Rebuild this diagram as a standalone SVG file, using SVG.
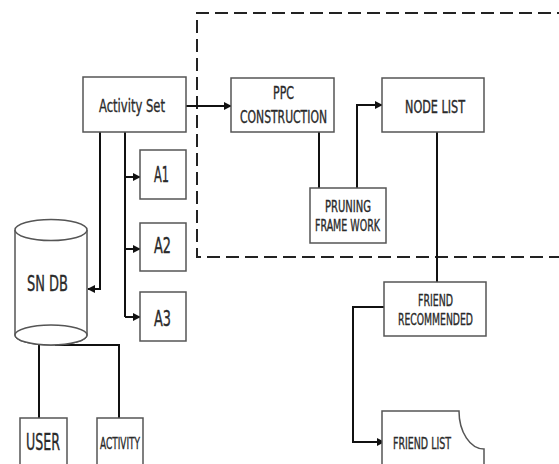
<svg xmlns="http://www.w3.org/2000/svg" width="559" height="464" viewBox="0 0 559 464">
<defs>
<marker id="ah" viewBox="0 0 10 10" refX="9" refY="5" markerWidth="4" markerHeight="4" orient="auto" markerUnits="strokeWidth"><path d="M0,0 L10,5 L0,10 z" fill="#111"/></marker>
<style>
.box{fill:#fff;stroke:#555;stroke-width:1.5}
.t{font-family:"DejaVu Sans Condensed","DejaVu Sans",sans-serif;fill:#2a2a2a;stroke:#2a2a2a;stroke-width:0.35;text-anchor:start}
.c{fill:none;stroke:#111;stroke-width:2}
.ca{fill:none;stroke:#111;stroke-width:2;marker-end:url(#ah)}
</style>
</defs>
<rect width="559" height="464" fill="#fff"/>
<path d="M570,13 L197,13 L197,257 L570,257" fill="none" stroke="#222" stroke-width="2" stroke-dasharray="13,6"/>
<g id="connectors">
<path class="ca" d="M186,106 L231,106"/>
<path class="c" d="M319,132 L319,188"/>
<path class="ca" d="M357,188 L357,105 L382,105"/>
<path class="c" d="M437,132 L437,282"/>
<path class="ca" d="M384,307 L353,307 L353,442 L384,442"/>
<path class="c" d="M125,132 L125,317"/>
<path class="ca" d="M125,177 L140,177"/>
<path class="ca" d="M125,249 L140,249"/>
<path class="ca" d="M125,317 L140,317"/>
<path class="ca" d="M100,132 L100,289 L88,289"/>
<path class="c" d="M39,345 L39,418"/>
<path class="c" d="M55,345 L119,345 L119,418"/>
</g>
<g id="activity-set"><rect class="box" x="83" y="77" width="103" height="55"/><text class="t" x="99" y="112" font-size="18.5" textLength="66" lengthAdjust="spacingAndGlyphs">Activity Set</text></g>
<g id="ppc"><rect class="box" x="231" y="78" width="103" height="54"/><text class="t" x="273" y="99" font-size="17" textLength="21" lengthAdjust="spacingAndGlyphs">PPC</text><text class="t" x="240" y="123" font-size="17" textLength="87" lengthAdjust="spacingAndGlyphs">CONSTRUCTION</text></g>
<g id="node-list"><rect class="box" x="382" y="78" width="102" height="54"/><text class="t" x="405" y="113" font-size="17" textLength="60" lengthAdjust="spacingAndGlyphs">NODE LIST</text></g>
<g id="pruning"><rect class="box" x="310" y="188" width="76" height="55"/><text class="t" x="325" y="212" font-size="15.5" textLength="46" lengthAdjust="spacingAndGlyphs">PRUNING</text><text class="t" x="315" y="231" font-size="15.5" textLength="65" lengthAdjust="spacingAndGlyphs">FRAME WORK</text></g>
<g id="friend-recommended"><rect class="box" x="384" y="282" width="102" height="54"/><text class="t" x="418" y="306" font-size="15.5" textLength="35" lengthAdjust="spacingAndGlyphs">FRIEND</text><text class="t" x="398" y="325" font-size="15.5" textLength="75" lengthAdjust="spacingAndGlyphs">RECOMMENDED</text></g>
<g id="friend-list"><path class="box" d="M382,470 L382,411 L459,411 A25,38 0 0 0 484,449 L484,470"/><text class="t" x="393" y="449" font-size="15.5" textLength="58" lengthAdjust="spacingAndGlyphs">FRIEND LIST</text></g>
<g id="a1"><rect class="box" x="140" y="150" width="46" height="49"/><text class="t" x="154" y="182" font-size="20.5" textLength="15" lengthAdjust="spacingAndGlyphs">A1</text></g>
<g id="a2"><rect class="box" x="140" y="223" width="46" height="48"/><text class="t" x="154" y="253" font-size="20.5" textLength="17" lengthAdjust="spacingAndGlyphs">A2</text></g>
<g id="a3"><rect class="box" x="140" y="292" width="46" height="49"/><text class="t" x="154" y="326" font-size="20.5" textLength="17" lengthAdjust="spacingAndGlyphs">A3</text></g>
<g id="sn-db"><path class="box" d="M15,230 L15,335 A36,10 0 0 0 87,335 L87,230"/><ellipse class="box" cx="51" cy="230" rx="36" ry="10.5"/><ellipse class="box" cx="51" cy="335" rx="36" ry="10"/><text class="t" x="27" y="291" font-size="20.5" textLength="41" lengthAdjust="spacingAndGlyphs">SN DB</text></g>
<g id="user"><rect class="box" x="20" y="418" width="47" height="52"/><text class="t" x="26" y="450" font-size="23" textLength="34" lengthAdjust="spacingAndGlyphs">USER</text></g>
<g id="activity"><rect class="box" x="97" y="418" width="46" height="52"/><text class="t" x="100" y="449" font-size="16" textLength="40" lengthAdjust="spacingAndGlyphs">ACTIVITY</text></g>
</svg>
